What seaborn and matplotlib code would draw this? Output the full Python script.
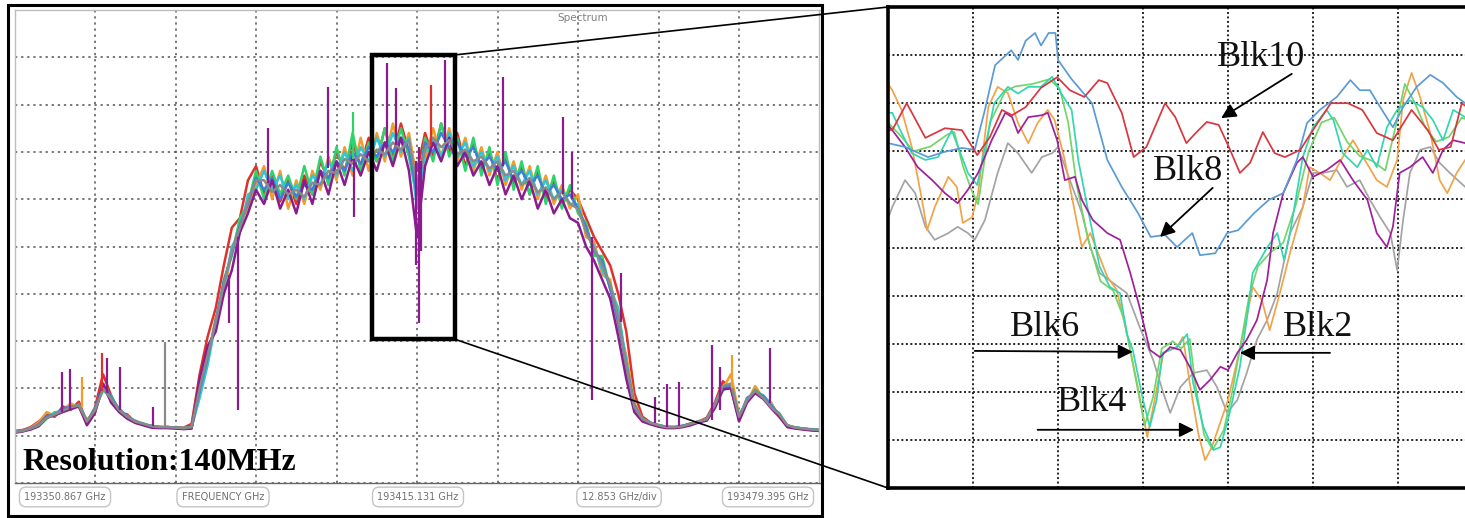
import numpy as np
import pandas as pd
import matplotlib
matplotlib.use("Agg")
import matplotlib.pyplot as plt
from matplotlib.patches import Rectangle, ConnectionPatch
import seaborn as sns

sns.set_style("white")
plt.rcParams["font.family"] = ["DejaVu Sans"]

# ---------------- left panel: whole spectrum (level in screen divisions) ----------------
f_start = 193350.867
f_stop = 193479.395
f_center = 193415.131
n_pts = 101

lvl_red = [1.10, 1.12, 1.18, 1.30, 1.45, 1.40, 1.62, 1.55, 1.72, 1.28,
           1.60, 2.30, 1.85, 1.50, 1.45, 1.28, 1.24, 1.20, 1.19, 1.17,
           1.18, 1.17, 1.25, 2.30, 3.10, 3.70, 4.60, 5.40, 5.60, 6.40,
           6.70, 6.10, 6.55, 5.95, 6.40, 5.90, 6.50, 6.10, 6.80, 6.40,
           7.00, 6.60, 7.20, 6.70, 7.30, 6.80, 7.50, 6.90, 7.60, 7.00,
           6.60, 7.40, 6.90, 7.60, 7.00, 7.40, 6.70, 7.20, 6.60, 7.00,
           6.40, 6.90, 6.30, 6.70, 6.10, 6.60, 6.00, 6.40, 5.90, 6.20,
           6.00, 5.60, 5.20, 4.90, 4.60, 4.00, 3.20, 1.90, 1.40, 1.28,
           1.22, 1.19, 1.18, 1.21, 1.26, 1.30, 1.38, 1.70, 2.15, 2.00,
           1.35, 1.80, 1.90, 1.85, 1.62, 1.45, 1.20, 1.17, 1.15, 1.13,
           1.12]
lvl_orange = [1.08, 1.11, 1.16, 1.28, 1.50, 1.42, 1.55, 1.68, 1.60, 1.34,
              1.52, 2.00, 1.75, 1.58, 1.38, 1.32, 1.25, 1.21, 1.18, 1.19,
              1.16, 1.17, 1.16, 1.90, 2.60, 3.50, 4.00, 4.90, 5.50, 5.80,
              6.30, 6.70, 6.00, 6.60, 5.80, 6.40, 5.90, 6.60, 6.20, 6.90,
              6.40, 7.10, 6.50, 7.30, 6.60, 7.40, 6.80, 7.60, 6.90, 7.40,
              6.40, 6.80, 7.50, 6.90, 7.50, 6.80, 7.30, 6.60, 7.10, 6.50,
              7.00, 6.30, 6.80, 6.20, 6.70, 6.00, 6.50, 5.90, 6.30, 5.80,
              6.10, 5.20, 5.10, 4.40, 4.30, 3.30, 2.70, 1.70, 1.35, 1.26,
              1.21, 1.18, 1.19, 1.20, 1.24, 1.31, 1.33, 1.60, 2.00, 2.30,
              1.45, 1.70, 2.05, 1.80, 1.70, 1.40, 1.23, 1.16, 1.14, 1.13,
              1.11]
lvl_green = [1.07, 1.10, 1.14, 1.20, 1.36, 1.50, 1.50, 1.62, 1.63, 1.28,
             1.58, 1.95, 1.85, 1.52, 1.42, 1.30, 1.26, 1.19, 1.18, 1.18,
             1.17, 1.15, 1.19, 2.10, 2.80, 3.30, 4.30, 4.80, 5.60, 5.90,
             6.60, 6.00, 6.60, 6.10, 6.50, 6.00, 6.70, 6.10, 6.90, 6.30,
             7.10, 6.50, 7.40, 6.60, 7.20, 6.80, 7.50, 6.80, 7.50, 6.90,
             6.00, 7.30, 6.80, 7.60, 6.90, 7.30, 6.60, 7.30, 6.50, 7.10,
             6.30, 7.00, 6.20, 6.80, 6.10, 6.70, 5.90, 6.50, 5.80, 6.30,
             5.70, 5.50, 4.80, 4.80, 4.10, 3.70, 2.40, 1.60, 1.33, 1.27,
             1.23, 1.18, 1.17, 1.19, 1.25, 1.29, 1.34, 1.62, 1.95, 2.10,
             1.42, 1.72, 1.98, 1.82, 1.60, 1.48, 1.21, 1.18, 1.15, 1.12,
             1.12]
lvl_cyan = [1.09, 1.09, 1.16, 1.22, 1.38, 1.47, 1.52, 1.58, 1.66, 1.32,
            1.50, 2.05, 1.78, 1.55, 1.40, 1.29, 1.25, 1.20, 1.17, 1.19,
            1.16, 1.16, 1.18, 1.80, 2.50, 3.40, 4.10, 5.00, 5.30, 6.10,
            6.20, 6.60, 6.20, 6.50, 6.00, 6.30, 6.00, 6.50, 6.30, 6.80,
            6.50, 7.00, 6.60, 7.10, 6.80, 7.30, 6.90, 7.40, 7.00, 7.30,
            5.80, 7.00, 7.30, 6.90, 7.40, 6.90, 7.20, 6.70, 7.00, 6.60,
            6.90, 6.40, 6.70, 6.30, 6.60, 6.10, 6.40, 6.00, 6.20, 5.90,
            5.90, 5.30, 5.00, 4.50, 4.20, 3.60, 2.60, 1.55, 1.36, 1.27,
            1.22, 1.19, 1.18, 1.20, 1.25, 1.30, 1.35, 1.66, 2.05, 2.05,
            1.38, 1.78, 1.92, 1.86, 1.66, 1.43, 1.22, 1.17, 1.15, 1.14,
            1.12]
lvl_blue = [1.08, 1.11, 1.15, 1.24, 1.42, 1.44, 1.58, 1.61, 1.64, 1.30,
            1.56, 2.10, 1.82, 1.56, 1.41, 1.31, 1.24, 1.21, 1.18, 1.18,
            1.17, 1.16, 1.17, 1.95, 2.65, 3.45, 4.25, 4.85, 5.45, 5.90,
            6.45, 6.20, 6.45, 6.00, 6.35, 6.05, 6.30, 6.20, 6.60, 6.45,
            6.80, 6.60, 7.00, 6.75, 7.10, 6.90, 7.20, 7.00, 7.30, 7.05,
            6.10, 7.20, 7.00, 7.40, 7.10, 7.20, 6.90, 7.10, 6.70, 6.90,
            6.60, 6.80, 6.40, 6.60, 6.30, 6.50, 6.10, 6.30, 6.00, 6.10,
            5.80, 5.40, 4.90, 4.70, 4.10, 3.40, 2.50, 1.65, 1.34, 1.26,
            1.22, 1.18, 1.18, 1.21, 1.25, 1.30, 1.34, 1.64, 2.00, 2.08,
            1.40, 1.76, 1.95, 1.83, 1.64, 1.44, 1.21, 1.17, 1.15, 1.13,
            1.12]
lvl_purple = [1.06, 1.09, 1.13, 1.20, 1.38, 1.43, 1.50, 1.56, 1.62, 1.22,
              1.48, 2.10, 1.70, 1.50, 1.36, 1.27, 1.22, 1.17, 1.16, 1.16,
              1.15, 1.14, 1.15, 2.20, 2.90, 3.20, 4.00, 4.50, 5.30, 5.70,
              6.20, 5.90, 6.40, 5.80, 6.20, 5.70, 6.40, 5.90, 6.60, 6.10,
              6.80, 6.30, 6.90, 6.50, 7.00, 6.60, 7.20, 6.70, 7.30, 6.60,
              5.20, 6.70, 7.20, 6.80, 7.30, 6.70, 7.00, 6.50, 6.80, 6.30,
              6.70, 6.10, 6.50, 6.00, 6.40, 5.80, 6.20, 5.70, 6.00, 5.60,
              5.50, 5.00, 4.70, 4.30, 3.90, 3.10, 2.20, 1.50, 1.30, 1.24,
              1.19, 1.16, 1.16, 1.18, 1.22, 1.28, 1.32, 1.58, 1.98, 2.00,
              1.30, 1.70, 1.90, 1.78, 1.58, 1.40, 1.18, 1.15, 1.13, 1.11,
              1.10]
lvl_gray = [1.08, 1.10, 1.15, 1.22, 1.38, 1.45, 1.53, 1.60, 1.64, 1.30,
            1.54, 2.00, 1.78, 1.54, 1.40, 1.30, 1.25, 1.20, 1.18, 1.18,
            1.17, 1.16, 1.18, 2.00, 2.70, 3.40, 4.20, 4.90, 5.40, 5.95,
            6.40, 6.40, 6.15, 6.30, 6.10, 6.20, 6.05, 6.35, 6.30, 6.60,
            6.55, 6.85, 6.75, 6.95, 6.80, 7.05, 6.95, 7.20, 7.05, 7.25,
            6.30, 7.05, 7.30, 7.10, 7.25, 6.95, 7.05, 6.80, 6.90, 6.65,
            6.80, 6.50, 6.60, 6.30, 6.45, 6.15, 6.25, 6.00, 6.15, 5.90,
            5.80, 5.30, 4.95, 4.60, 4.20, 3.50, 2.50, 1.60, 1.35, 1.27,
            1.22, 1.18, 1.18, 1.20, 1.25, 1.30, 1.35, 1.65, 2.05, 2.10,
            1.40, 1.75, 1.95, 1.80, 1.60, 1.45, 1.22, 1.17, 1.15, 1.13,
            1.12]

# single-bin spikes and notches (GHz, level the stroke starts at, level it reaches)
spike_f = [193358.45, 193359.74, 193361.66, 193364.88, 193365.65, 193367.70,
           193372.97, 193374.90, 193385.06, 193386.60, 193391.35, 193400.99,
           193404.85, 193405.11, 193410.38, 193411.79, 193414.90, 193415.39,
           193415.75, 193417.32, 193419.63, 193428.88, 193438.39, 193439.93,
           193443.02, 193447.65, 193453.17, 193455.10, 193457.03, 193462.17,
           193463.46, 193465.39, 193471.56]
spike_from = [1.50, 1.55, 1.60, 1.95, 1.90, 1.55, 1.20, 1.18, 4.40, 5.20, 6.35, 6.65,
              6.85, 6.85, 7.10, 7.15, 6.80, 7.10, 6.80, 7.15, 7.20, 6.70, 6.10, 6.00,
              5.20, 3.40, 1.27, 1.18, 1.20, 1.33, 1.55, 2.00, 1.70]
spike_to = [2.35, 2.40, 2.25, 2.75, 2.65, 2.45, 1.60, 2.98, 3.38, 1.54, 7.50, 8.37,
            7.84, 5.62, 8.88, 8.35, 4.60, 3.38, 4.90, 8.42, 8.94, 8.58, 7.74, 7.00,
            1.76, 4.44, 1.82, 2.10, 2.13, 2.92, 2.45, 2.70, 2.85]
spike_trace = ["purple", "purple", "orange", "red", "purple", "purple", "purple", "gray",
               "purple", "purple", "purple", "purple", "green", "purple", "purple", "purple",
               "purple", "purple", "purple", "red", "purple", "purple", "purple", "purple",
               "purple", "purple", "purple", "purple", "purple", "purple", "purple", "orange",
               "purple"]

# zoom window drawn on the spectrum (GHz / level)
box_f = [193407.93, 193421.17]
box_lvl = [3.04, 9.05]

bottom_labels = ["193350.867 GHz", "FREQUENCY GHz", "193415.131 GHz",
                 "12.853 GHz/div", "193479.395 GHz"]

# ---------------- right panel: zoom on the notch (x, level in divisions) ----------------
z_gray_x = [0.0, 0.05, 0.2, 0.32, 0.44, 0.55, 0.71, 0.82, 0.94, 1.02, 1.14, 1.29, 1.41, 1.53,
            1.69, 1.81, 1.93, 2.0, 2.14, 2.28, 2.38, 2.49, 2.65, 2.81, 2.96, 3.12, 3.24, 3.32,
            3.44, 3.59, 3.75, 3.87, 3.99, 4.11, 4.22, 4.34, 4.46, 4.58, 4.73, 4.88, 5.0, 5.12,
            5.28, 5.4, 5.55, 5.67, 5.79, 5.91, 5.99, 6.06, 6.14, 6.26, 6.38, 6.49, 6.61, 6.79, 6.9]
z_gray_y = [5.6, 5.84, 6.4, 6.13, 5.43, 5.16, 5.3, 5.43, 5.3, 5.16, 5.57, 6.55, 7.17, 6.96,
            6.55, 6.88, 6.96, 7.09, 6.4, 5.72, 5.01, 4.47, 4.26, 4.05, 3.35, 2.66, 1.97, 1.56,
            2.1, 2.39, 2.45, 2.1, 1.56, 1.83, 2.39, 3.08, 3.49, 4.05, 5.30, 5.84, 6.55, 6.55,
            6.61, 6.26, 6.40, 5.99, 5.63, 5.30, 4.53, 5.57, 6.55, 7.03, 7.09, 6.76, 6.55, 6.26, 6.2]
z_orange_x = [0.0, 0.05, 0.16, 0.28, 0.4, 0.46, 0.55, 0.71, 0.81, 0.88, 0.99, 1.06, 1.18, 1.29,
              1.41, 1.53, 1.65, 1.76, 1.88, 1.96, 2.08, 2.2, 2.28, 2.38, 2.58, 2.69, 2.81, 2.93,
              3.05, 3.15, 3.24, 3.40, 3.47, 3.55, 3.65, 3.73, 3.81, 4.0, 4.11, 4.22, 4.29, 4.4,
              4.49, 4.61, 4.73, 4.88, 4.96, 5.08, 5.2, 5.35, 5.47, 5.59, 5.75, 5.87, 5.99, 6.06,
              6.16, 6.26, 6.38, 6.49, 6.58, 6.69, 6.79, 6.9]
z_orange_y = [8.4, 8.27, 7.86, 7.09, 5.99, 5.36, 5.84, 6.47, 6.26, 5.51, 5.63, 6.13, 7.92, 8.34,
              8.21, 7.59, 7.17, 7.59, 7.86, 7.65, 6.82, 5.72, 5.01, 5.3, 4.39, 4.12, 3.22, 2.18,
              1.06, 1.95, 2.81, 2.93, 3.14, 2.18, 1.14, 0.58, 0.85, 1.83, 2.66, 3.55, 4.18, 3.9,
              3.28, 4.05, 4.89, 5.84, 6.67, 6.55, 6.40, 6.88, 7.23, 6.88, 6.40, 6.26, 6.82, 8.07,
              8.63, 8.13, 7.38, 6.40, 6.13, 6.55, 6.82, 6.9]
z_green_x = [0.0, 0.16, 0.3, 0.5, 0.7, 0.78, 0.88, 0.98, 1.06, 1.2, 1.38, 1.5, 1.7, 1.9, 2.02,
             2.12, 2.22, 2.35, 2.5, 2.65, 2.78, 2.9, 3.02, 3.12, 3.22, 3.35, 3.45, 3.55, 3.62,
             3.72, 3.82, 3.95, 4.05, 4.15, 4.25, 4.35, 4.5, 4.65, 4.8, 4.95, 5.1, 5.25, 5.4,
             5.55, 5.7, 5.85, 5.97, 6.08, 6.2, 6.32, 6.45, 6.6, 6.75, 6.9]
z_green_y = [7.6, 7.3, 7.0, 7.1, 7.35, 7.4, 6.7, 6.2, 5.9, 7.6, 8.25, 8.35, 8.4, 8.5, 8.3,
             7.6, 6.3, 5.2, 4.3, 4.1, 3.5, 2.4, 1.3, 1.9, 2.9, 3.05, 2.9, 3.1, 2.1,
             1.1, 0.8, 1.2, 2.0, 3.0, 4.0, 4.6, 4.9, 5.1, 5.9, 7.0, 7.6, 7.7, 7.2,
             6.9, 6.8, 6.6, 7.5, 8.4, 8.0, 7.5, 7.2, 7.3, 7.7, 7.6]
z_teal_x = [0.0, 0.05, 0.16, 0.28, 0.44, 0.59, 0.75, 0.94, 1.05, 1.25, 1.41, 1.53, 1.65, 1.80,
            1.93, 2.04, 2.16, 2.24, 2.37, 2.49, 2.61, 2.73, 2.81, 2.88, 3.0, 3.08, 3.16, 3.23,
            3.40, 3.52, 3.59, 3.71, 3.83, 3.91, 4.02, 4.14, 4.22, 4.29, 4.46, 4.58, 4.66, 4.73,
            4.88, 5.0, 5.16, 5.24, 5.35, 5.52, 5.64, 5.75, 5.87, 5.99, 6.14, 6.29, 6.41, 6.53,
            6.65, 6.79, 6.9]
z_teal_y = [7.8, 7.8, 7.38, 6.96, 6.82, 6.88, 7.44, 6.55, 6.3, 8.0, 8.34, 8.2, 8.34, 8.34,
            8.55, 8.2, 7.86, 6.8, 5.63, 4.6, 4.18, 4.05, 3.2, 2.87, 1.83, 1.27, 1.83, 2.81,
            2.93, 3.2, 2.18, 1.27, 0.79, 0.85, 1.56, 2.52, 3.5, 4.47, 5.0, 5.3, 4.74, 5.3,
            6.88, 7.5, 7.86, 7.65, 6.96, 6.67, 7.03, 6.67, 7.5, 7.86, 8.06, 7.92, 7.65, 7.23,
            7.86, 7.71, 7.6]
z_purple_x = [0.0, 0.05, 0.2, 0.35, 0.52, 0.67, 0.82, 0.94, 1.06, 1.22, 1.38, 1.46, 1.53, 1.65,
              1.81, 1.88, 1.99, 2.08, 2.2, 2.28, 2.41, 2.58, 2.73, 2.85, 2.96, 3.08, 3.2, 3.32,
              3.44, 3.55, 3.67, 3.79, 3.91, 4.0, 4.11, 4.22, 4.34, 4.46, 4.53, 4.65, 4.81, 4.88,
              5.0, 5.16, 5.32, 5.47, 5.64, 5.75, 5.87, 5.94, 6.02, 6.14, 6.29, 6.41, 6.53, 6.65,
              6.79, 6.9]
z_purple_y = [7.55, 7.44, 7.09, 6.67, 6.40, 6.13, 5.92, 6.2, 6.55, 7.23, 7.8, 7.71, 7.38, 7.71,
              7.75, 7.8, 7.23, 6.40, 6.47, 5.99, 5.57, 5.30, 5.16, 4.47, 3.76, 2.87, 2.72, 2.93,
              2.87, 2.52, 2.04, 2.25, 2.52, 2.45, 2.81, 3.08, 3.49, 4.32, 5.30, 6.13, 6.76, 6.88,
              6.47, 6.61, 6.82, 6.40, 5.99, 5.30, 5.01, 5.43, 6.55, 6.67, 6.88, 6.55, 7.03, 7.23,
              7.17, 7.1]
z_blue_x = [0.0, 0.2, 0.47, 0.67, 0.87, 1.02, 1.14, 1.26, 1.45, 1.53, 1.62, 1.73, 1.80, 1.89,
            1.97, 2.0, 2.16, 2.4, 2.58, 2.75, 2.94, 3.09, 3.26, 3.4, 3.58, 3.67, 3.85, 3.99,
            4.12, 4.31, 4.48, 4.65, 4.81, 4.93, 5.08, 5.28, 5.44, 5.55, 5.67, 5.79, 5.94, 6.06,
            6.22, 6.38, 6.53, 6.69, 6.79, 6.9]
z_blue_y = [7.17, 7.09, 6.88, 6.99, 7.07, 7.03, 7.86, 8.79, 9.1, 8.9, 9.3, 9.46, 9.2, 9.46,
            9.46, 8.9, 8.5, 8.0, 6.82, 6.26, 5.72, 5.22, 5.26, 5.01, 5.3, 4.84, 4.88, 5.3,
            5.36, 5.72, 5.99, 6.13, 6.82, 7.59, 7.86, 8.13, 8.48, 8.27, 8.27, 7.92, 7.5, 7.92,
            8.34, 8.59, 8.42, 8.13, 8.0, 7.9]
z_red_x = [0.0, 0.05, 0.22, 0.44, 0.67, 0.87, 1.05, 1.2, 1.34, 1.46, 1.62, 1.80, 1.99, 2.14,
           2.31, 2.48, 2.58, 2.75, 2.89, 3.04, 3.26, 3.38, 3.51, 3.62, 3.75, 3.89, 4.01, 4.14,
           4.26, 4.41, 4.55, 4.67, 4.85, 5.04, 5.21, 5.41, 5.58, 5.75, 5.94, 6.16, 6.35, 6.48,
           6.62, 6.75, 6.9]
z_red_y = [7.45, 7.44, 8.0, 7.28, 7.48, 7.44, 6.92, 7.3, 7.86, 7.75, 7.92, 8.32, 8.54, 8.27,
           8.13, 8.48, 8.42, 7.80, 6.88, 7.09, 8.0, 7.71, 7.17, 7.38, 7.61, 7.55, 7.09, 6.55,
           6.76, 7.40, 6.96, 6.88, 7.03, 7.55, 8.0, 8.0, 7.86, 7.38, 7.23, 7.86, 7.44, 7.03,
           7.09, 8.0, 7.8]

blk_labels = ["Blk10", "Blk8", "Blk6", "Blk4", "Blk2"]

# ---------------- colours ----------------
pal_left = {"red": "#e0302a", "orange": "#f39c2b", "green": "#2fd36b", "cyan": "#2ec6d8",
            "blue": "#3f7fd8", "purple": "#8a1c8f", "gray": "#8a8a8a"}
pal_right = {"gray": "#a3a3a3", "orange": "#f2a349", "green": "#74d46a", "teal": "#33d6b0",
             "purple": "#a0209a", "blue": "#5b9bd5", "red": "#d9363e"}

# ---------------- figure ----------------
W, H = 1465, 518


def fx(px):
    return px / W


def fy(py):
    return 1 - py / H


fig = plt.figure(figsize=(W / 100, H / 100), dpi=100)

# left spectrum
axL = fig.add_axes([fx(14.5), fy(483), 805 / W, 473 / H])
freq = np.linspace(f_start, f_stop, n_pts)
left_traces = {"red": lvl_red, "orange": lvl_orange, "green": lvl_green, "cyan": lvl_cyan,
               "blue": lvl_blue, "purple": lvl_purple, "gray": lvl_gray}
left_df = pd.concat([pd.DataFrame({"freq": freq, "level": v, "trace": k})
                     for k, v in left_traces.items()], ignore_index=True)
sns.lineplot(data=left_df, x="freq", y="level", hue="trace", palette=pal_left,
             hue_order=list(left_traces), estimator=None, sort=False,
             linewidth=1.8, legend=False, ax=axL)
axL.vlines(spike_f, spike_from, spike_to, colors=[pal_left[t] for t in spike_trace],
           linewidth=1.6, zorder=3)
axL.set_xlim(f_start, f_stop)
axL.set_ylim(0, 10)
axL.set_xticks(np.linspace(f_start, f_stop, 11))
axL.set_yticks(np.arange(0, 11))
axL.grid(True, color="#555555", linewidth=1.1, linestyle=(0, (1.5, 2.5)))
axL.set_axisbelow(True)
axL.tick_params(axis="x", length=3, color="#666666", labelbottom=False)
axL.tick_params(axis="y", length=0, labelleft=False)
axL.set_xlabel("")
axL.set_ylabel("")
for side, sp in axL.spines.items():
    sp.set_color("#666666" if side == "bottom" else "#bdbdbd")
    sp.set_linewidth(1.0)

axL.add_patch(Rectangle((box_f[0], box_lvl[0]), box_f[1] - box_f[0], box_lvl[1] - box_lvl[0],
                        fill=False, ec="black", lw=3.2, zorder=6))

# right zoom
axR = fig.add_axes([fx(888), fy(488), 595 / W, 481 / H])
right_traces = {"gray": (z_gray_x, z_gray_y), "orange": (z_orange_x, z_orange_y),
                "green": (z_green_x, z_green_y), "teal": (z_teal_x, z_teal_y),
                "purple": (z_purple_x, z_purple_y), "blue": (z_blue_x, z_blue_y),
                "red": (z_red_x, z_red_y)}
right_df = pd.concat([pd.DataFrame({"x": xy[0], "level": xy[1], "trace": k})
                      for k, xy in right_traces.items()], ignore_index=True)
sns.lineplot(data=right_df, x="x", y="level", hue="trace", palette=pal_right,
             hue_order=list(right_traces), estimator=None, sort=False,
             linewidth=1.25, legend=False, ax=axR)
axR.set_xlim(0, 7)
axR.set_ylim(0, 10)
axR.set_xticks(np.arange(1, 7))
axR.set_yticks(np.arange(1, 10))
axR.grid(True, color="#222222", linewidth=1.4, linestyle=(0, (1, 1.3)))
axR.set_axisbelow(True)
axR.tick_params(length=0, labelbottom=False, labelleft=False)
axR.set_xlabel("")
axR.set_ylabel("")
for sp in axR.spines.values():
    sp.set_color("black")
    sp.set_linewidth(2.6)

serif = ["Liberation Serif", "DejaVu Serif"]
label_pos = [(4.39, 8.96), (3.53, 6.59), (1.85, 3.33), (2.40, 1.77), (5.06, 3.33)]
arrow_tail = [(4.75, 8.61), (3.82, 6.24), (1.02, 2.85), (1.76, 1.21), (5.20, 2.81)]
arrow_tip = [(3.92, 7.69), (3.20, 5.22), (2.88, 2.83), (3.60, 1.21), (4.14, 2.81)]
for lab, pos, tail, tip in zip(blk_labels, label_pos, arrow_tail, arrow_tip):
    axR.text(pos[0], pos[1], lab, family=serif, fontsize=26, ha="center", va="center",
             color="#111111", zorder=6)
    axR.annotate("", xy=tip, xytext=tail,
                 arrowprops=dict(arrowstyle="-|>", color="black", lw=1.3,
                                 mutation_scale=22, shrinkA=0, shrinkB=0), zorder=6)

# connector lines from the zoom box to the right panel
for yb, ya in [(box_lvl[1], 1), (box_lvl[0], 0)]:
    con = ConnectionPatch(xyA=(box_f[1], yb), coordsA=axL.transData,
                          xyB=(0, ya), coordsB=axR.transAxes,
                          color="black", lw=1.2, zorder=8)
    fig.add_artist(con)

# frame around the analyser screen
fig.add_artist(Rectangle((fx(8), fy(516)), 814 / W, 511 / H, transform=fig.transFigure,
                         fill=False, ec="black", lw=2.2, zorder=9))

# analyser readout boxes
label_cx = [65, 223, 418, 619, 768]
for txt, cx in zip(bottom_labels, label_cx):
    fig.text(fx(cx), fy(497), txt, ha="center", va="center", fontsize=7, color="#707070",
             bbox=dict(boxstyle="round,pad=0.5,rounding_size=0.7", fc="white",
                       ec="#c4c4c4", lw=1.0))

fig.text(fx(583), fy(18), "Spectrum", ha="center", va="center", fontsize=7.5, color="#808080")
fig.text(fx(22), fy(463), "Resolution:140MHz", ha="left", va="center", family=serif,
         fontweight="bold", fontsize=23, color="black", zorder=10)

fig.savefig("out.png", dpi=100)
